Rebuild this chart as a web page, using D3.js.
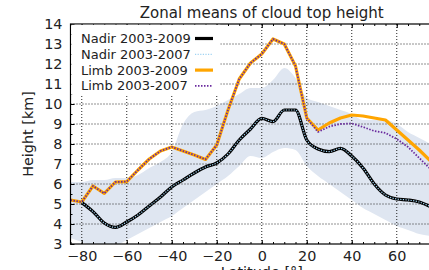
<!DOCTYPE html>
<html>
<head>
<meta charset="utf-8">
<script src="https://cdn.jsdelivr.net/npm/d3@7"></script>
<style>
body { margin: 0; background: #fff; }
text { font-family: "DejaVu Sans", sans-serif; fill: #222; }
</style>
</head>
<body>
<div id="chart"></div>
<script>
// latitude grid of the zonal means
var lats = [-85,-80,-75,-70,-65,-60,-55,-50,-45,-40,-35,-30,-25,-20,-15,-10,-5,0,5,10,15,20,25,30,35,40,45,50,55,60,65,70,75];

var nadir0309 = [null,5.07,4.62,4.05,3.83,4.1,4.45,4.9,5.35,5.85,6.2,6.55,6.85,7.05,7.5,8.2,8.75,9.28,9.12,9.7,9.7,8.2,7.75,7.62,7.78,7.4,6.8,6.0,5.45,5.25,5.2,5.1,4.87];
var nadir0307 = [null,5.07,4.62,4.05,3.83,4.1,4.45,4.9,5.35,5.85,6.2,6.55,6.85,7.05,7.5,8.2,8.75,9.28,9.12,9.7,9.7,8.2,7.75,7.62,7.78,7.4,6.8,6.0,5.45,5.25,5.2,5.1,4.87];
var limb0309 = [5.2,5.1,5.9,5.53,6.1,6.12,6.7,7.25,7.65,7.85,7.65,7.45,7.23,7.95,9.7,11.25,12.05,12.5,13.25,13.0,11.9,9.3,8.7,9.05,9.3,9.45,9.4,9.3,9.2,8.7,8.2,7.7,7.15];
var limb0307 = [5.2,5.1,5.9,5.53,6.1,6.12,6.7,7.25,7.65,7.85,7.65,7.45,7.23,7.95,9.7,11.25,12.05,12.5,13.25,13.0,11.9,9.3,8.6,8.87,9.0,9.03,8.85,8.65,8.55,8.25,7.85,7.3,6.75];

// spread of the nadir heights
var bandLow  = [3.3,3.1,2.9,2.8,2.9,3.2,3.5,3.8,4.1,4.4,4.8,5.2,5.6,6.0,6.4,6.9,7.4,7.3,7.6,7.8,7.7,6.9,6.4,6.0,5.6,5.2,4.8,4.5,4.2,3.9,3.7,3.5,3.4];
var bandHigh = [6.1,6.1,6.2,6.2,6.3,6.3,6.45,6.8,7.1,7.6,9.0,9.6,9.7,9.9,10.2,10.5,10.8,10.8,11.2,11.8,11.3,10.3,10.1,9.9,9.7,9.5,9.2,9.2,9.2,9.0,8.6,8.3,8.0];

var xTicks = [-80,-60,-40,-20,0,20,40,60];
var yTicks = [3,4,5,6,7,8,9,10,11,12,13,14];
var legendLabels = ["Nadir 2003-2009","Nadir 2003-2007","Limb 2003-2009","Limb 2003-2007"];

var margin = {top: 24, right: -24, bottom: 26, left: 70.5},
    width = 429 - margin.left - margin.right,
    height = 270 - margin.top - margin.bottom;

var svg = d3.select("#chart")
  .append("svg")
    .attr("width", 429)
    .attr("height", 270);

var g = svg.append("g")
    .attr("transform", "translate(" + margin.left + "," + margin.top + ")");

var x = d3.scaleLinear().domain([-85, 85]).range([0, width]);
var y = d3.scaleLinear().domain([3, 14]).range([height, 0]);

svg.append("defs").append("clipPath").attr("id", "clip")
  .append("rect").attr("width", width).attr("height", height);

var plot = g.append("g").attr("clip-path", "url(#clip)");

// band
var area = d3.area()
    .x(function(d, i) { return x(lats[i]); })
    .y0(function(d, i) { return y(bandLow[i]); })
    .y1(function(d, i) { return y(bandHigh[i]); })
    .curve(d3.curveMonotoneX);
plot.append("path").datum(lats)
    .attr("d", area)
    .attr("fill", "#dfe6f1");

// grid
plot.selectAll(".vgrid").data(xTicks).enter().append("line")
    .attr("x1", function(d) { return x(d); }).attr("x2", function(d) { return x(d); })
    .attr("y1", 0).attr("y2", height)
    .attr("stroke", "#222").attr("stroke-width", 1).attr("stroke-dasharray", "1,2");
plot.selectAll(".hgrid").data(yTicks.slice(1, -1)).enter().append("line")
    .attr("x1", 0).attr("x2", width)
    .attr("y1", function(d) { return y(d); }).attr("y2", function(d) { return y(d); })
    .attr("stroke", "#222").attr("stroke-width", 1).attr("stroke-dasharray", "1,2");

function lineOf(vals, curve) {
  return d3.line()
    .defined(function(d, i) { return vals[i] != null; })
    .x(function(d, i) { return x(lats[i]); })
    .y(function(d, i) { return y(vals[i]); })
    .curve(curve)(lats);
}

var styles = [
  {vals: nadir0309, color: "#000", w: 3.2, dash: null, curve: d3.curveMonotoneX},
  {vals: nadir0307, color: "#9fd3f2", w: 1.2, dash: "1.2,1.4", curve: d3.curveMonotoneX},
  {vals: limb0309, color: "#ffa500", w: 3.2, dash: null, curve: d3.curveLinear},
  {vals: limb0307, color: "#6a2a9e", w: 1.8, dash: "1.5,1.5", curve: d3.curveLinear}
];

// limb lines under nadir lines
[2, 3, 0, 1].forEach(function(k) {
  var s = styles[k];
  plot.append("path")
    .attr("d", lineOf(s.vals, s.curve))
    .attr("fill", "none")
    .attr("stroke", s.color)
    .attr("stroke-width", s.w)
    .attr("stroke-linejoin", "round")
    .attr("stroke-dasharray", s.dash);
});

// axes with inward ticks
var minorX = d3.range(-85, 86, 5);
var minorY = d3.range(3, 14.01, 0.5);

var xb = g.append("g").attr("transform", "translate(0," + height + ")");
xb.call(d3.axisBottom(x).tickValues(minorX).tickSize(-2).tickFormat(""));
xb.select(".domain").remove();
var xb2 = g.append("g").attr("transform", "translate(0," + height + ")");
xb2.call(d3.axisBottom(x).tickValues(xTicks).tickSize(-4).tickPadding(7).tickFormat(d3.format("d")));
xb2.select(".domain").remove();
xb2.selectAll("text").style("font-size", "14.4px").attr("fill", "#222");

var xt = g.append("g");
xt.call(d3.axisTop(x).tickValues(minorX).tickSize(-2).tickFormat(""));
xt.select(".domain").remove();
var xt2 = g.append("g");
xt2.call(d3.axisTop(x).tickValues(xTicks).tickSize(-4).tickFormat(""));
xt2.select(".domain").remove();

var yl = g.append("g");
yl.call(d3.axisLeft(y).tickValues(minorY).tickSize(-2).tickFormat(""));
yl.select(".domain").remove();
var yl2 = g.append("g");
yl2.call(d3.axisLeft(y).tickValues(yTicks).tickSize(-4).tickPadding(8).tickFormat(d3.format("d")));
yl2.select(".domain").remove();
yl2.selectAll("text").style("font-size", "14.4px").attr("fill", "#222");

g.selectAll(".tick line").attr("stroke", "#000").attr("stroke-width", 1);

// frame
g.append("rect")
    .attr("width", width).attr("height", height)
    .attr("fill", "none").attr("stroke", "#000").attr("stroke-width", 1.2);

// legend
var leg = g.append("g");
leg.append("rect")
    .attr("x", 0.8).attr("y", 0.8).attr("width", 149).attr("height", 70)
    .attr("fill", "#fff");
legendLabels.forEach(function(lab, i) {
  var yy = 14.5 + i * 15.8;
  leg.append("text")
    .attr("x", 10.5).attr("y", yy).attr("dy", "0.35em")
    .style("font-size", "13px")
    .text(lab);
  var s = styles[i];
  leg.append("line")
    .attr("x1", 124.5).attr("x2", 142.5).attr("y1", yy).attr("y2", yy)
    .attr("stroke", s.color)
    .attr("stroke-width", s.w)
    .attr("stroke-dasharray", s.dash);
});

// titles
svg.append("text")
    .attr("x", margin.left + width / 2).attr("y", 18)
    .attr("text-anchor", "middle")
    .style("font-size", "15px")
    .text("Zonal means of cloud top height");

svg.append("text")
    .attr("x", margin.left + width / 2).attr("y", 277)
    .attr("text-anchor", "middle")
    .style("font-size", "14.4px")
    .text("Latitude [°]");

svg.append("text")
    .attr("transform", "translate(33," + (margin.top + height / 2) + ") rotate(-90)")
    .attr("text-anchor", "middle")
    .style("font-size", "14.4px")
    .text("Height [km]");
</script>
</body>
</html>
